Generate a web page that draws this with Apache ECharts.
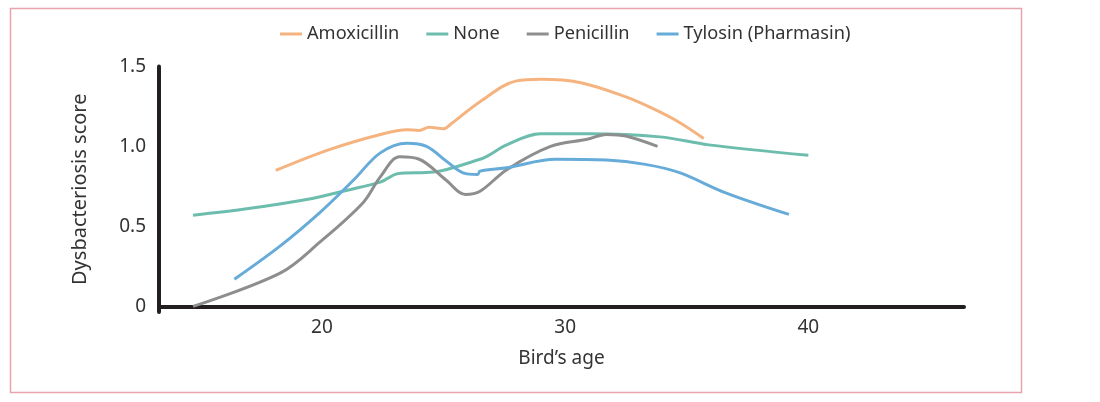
<!DOCTYPE html>
<html>
<head>
<meta charset="utf-8">
<script src="https://cdn.jsdelivr.net/npm/echarts@6/dist/echarts.min.js"></script>
<style>
html,body{margin:0;padding:0;background:#fff;}
#c{width:1100px;height:402px;}
</style>
</head>
<body>
<div id="c"></div>
<script>
var seriesNames = ['Amoxicillin', 'None', 'Penicillin', 'Tylosin (Pharmasin)'];
var xTicks = [20, 30, 40];
var yTicks = [0, 0.5, 1.0, 1.5];

var amoxicillin = [[18.1,0.85],[20.3,0.98],[22.4,1.075],[23.5,1.105],[24.0,1.10],[24.4,1.12],[25.0,1.11],[25.3,1.14],[26.5,1.28],[28.0,1.41],[29.0,1.42],[30.6,1.40],[32.5,1.31],[33.7,1.23],[34.7,1.15],[35.7,1.05]];
var none = [[14.7,0.57],[16.9,0.61],[19.6,0.675],[21.0,0.725],[22.4,0.777],[22.7,0.80],[23.1,0.83],[24.6,0.84],[26.5,0.92],[26.8,0.94],[27.6,1.01],[29.0,1.08],[31.0,1.08],[33.9,1.06],[35.9,1.01],[40.0,0.945]];
var penicillin = [[14.7,0.0],[18.3,0.21],[19.9,0.40],[21.7,0.65],[22.4,0.81],[23.2,0.935],[24.0,0.92],[25.1,0.79],[25.9,0.70],[26.5,0.72],[27.6,0.855],[29.4,1.0],[30.9,1.045],[31.7,1.075],[32.5,1.065],[33.8,1.0]];
var tylosin = [[16.4,0.17],[18.3,0.38],[19.9,0.585],[21.3,0.79],[22.4,0.96],[23.5,1.02],[24.3,1.0],[25.1,0.91],[25.8,0.835],[26.4,0.825],[26.5,0.846],[27.6,0.867],[29.6,0.92],[31.7,0.915],[33.3,0.888],[34.7,0.836],[36.6,0.71],[39.2,0.575]];

var colors = ['#F5B47F', '#6DBDAE', '#8E8E8E', '#67ABD9'];
var datasets = [amoxicillin, none, penicillin, tylosin];
var FONT = 'Noto Sans';

var chart = echarts.init(document.getElementById('c'), null, {renderer: 'canvas'});
chart.setOption({
  animation: false,
  color: colors,
  textStyle: {fontFamily: FONT},
  graphic: [{
    type: 'rect',
    shape: {x: 10.5, y: 8.5, width: 1011, height: 384},
    style: {fill: 'none', stroke: '#E8A5AE', lineWidth: 1.5}
  }],
  legend: {
    top: 20,
    left: 275,
    icon: 'rect',
    itemWidth: 22,
    itemHeight: 3,
    itemGap: 27,
    textStyle: {fontSize: 18.2, color: '#333', fontFamily: FONT},
    data: seriesNames
  },
  grid: {left: 159, right: 136, top: 66.5, bottom: 90, containLabel: false},
  xAxis: {
    type: 'value',
    min: 13.3,
    max: 46.4,
    name: 'Bird\u2019s age',
    nameLocation: 'middle',
    nameGap: 37,
    nameTextStyle: {fontSize: 19, color: '#333', fontFamily: FONT},
    axisLine: {show: true, lineStyle: {color: '#231F20', width: 4}},
    axisTick: {show: false},
    splitLine: {show: false},
    axisLabel: {customValues: xTicks, fontSize: 19, color: '#333', margin: 6, fontFamily: FONT}
  },
  yAxis: {
    type: 'value',
    min: -0.035,
    max: 1.5,
    name: 'Dysbacteriosis score',
    nameLocation: 'middle',
    nameGap: 69,
    nameTextStyle: {fontSize: 20, color: '#333', fontFamily: FONT},
    axisLine: {show: true, lineStyle: {color: '#231F20', width: 4}},
    axisTick: {show: false},
    splitLine: {show: false},
    axisLabel: {
      customValues: yTicks, fontSize: 19, color: '#333', margin: 13, fontFamily: FONT,
      formatter: function (v) { return v === 0 ? '0' : v.toFixed(1); }
    }
  },
  series: seriesNames.map(function (n, i) {
    return {
      name: n,
      type: 'line',
      data: datasets[i],
      smooth: 0.35,
      showSymbol: false,
      lineStyle: {width: 3, color: colors[i]},
      itemStyle: {color: colors[i]}
    };
  })
});
</script>
</body>
</html>
